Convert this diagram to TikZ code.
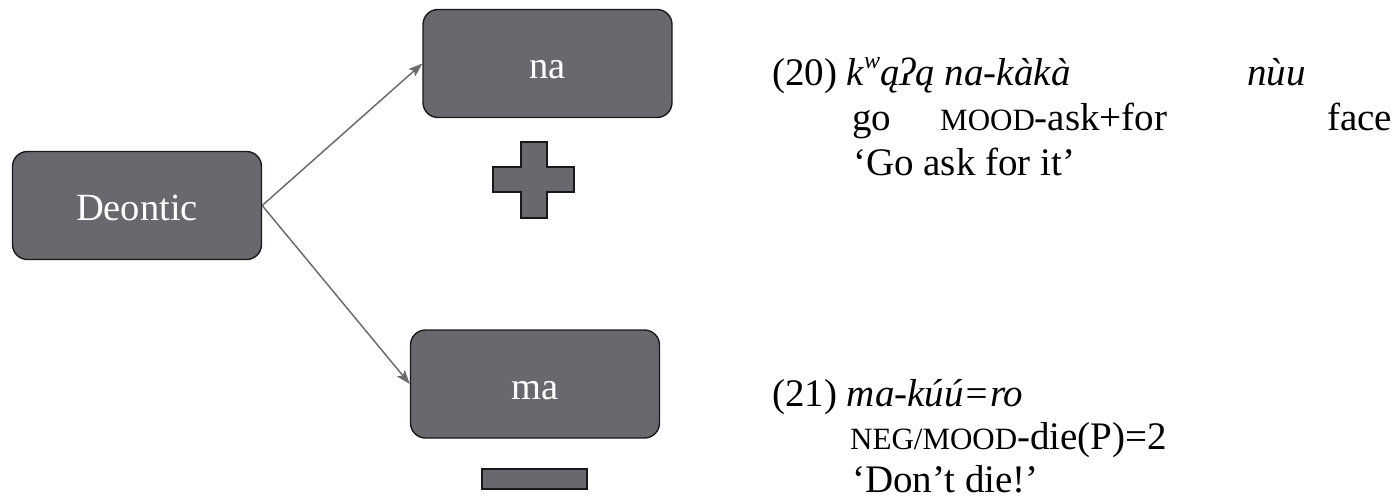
\documentclass[tikz,border=0pt]{standalone}
\usepackage{fontspec}
\setmainfont{Liberation Serif}
\usetikzlibrary{arrows.meta}
\definecolor{boxgray}{RGB}{104,105,110}
\definecolor{arrgray}{RGB}{108,108,112}
\newcommand\glsc[1]{{\fontsize{31}{31}\selectfont #1}}
\newcommand\supw{\raisebox{0.42em}{\fontsize{24}{24}\selectfont w}}
\begin{document}
\begin{tikzpicture}[x=1pt,y=-1pt,
  box/.style={draw=black!90, line width=1.4pt, fill=boxgray, rounded corners=15pt,
    minimum width=249pt, minimum height=108pt, inner sep=0pt, text=white,
    text height=30pt, text depth=0pt, font=\fontsize{38.5}{38.5}\selectfont},
  conn/.style={draw=arrgray, line width=1.5pt, -{Stealth[length=14pt,width=10pt,inset=3pt]}},
  sign/.style={draw=black!90, line width=1.3pt, fill=boxgray},
  ex/.style={anchor=base west, inner sep=0pt, font=\fontsize{39}{39}\selectfont}]
\useasboundingbox (0,0) rectangle (1395,499);

\node[box] (dn) at (137,205.5) {Deontic};
\node[box] (na) at (547.5,63.5) {na};
\node[box] (ma) at (535,384) {ma};
\draw[conn] (dn.east) -- (na.west);
\draw[conn] (dn.east) -- (ma.west);

\draw[sign] (521,142) -- (547,142) -- (547,167) -- (574,167) -- (574,192) -- (547,192)
  -- (547,218) -- (521,218) -- (521,192) -- (493,192) -- (493,167) -- (521,167) -- cycle;
\draw[sign] (482,469) rectangle (587,489);

\node[ex] (e20) at (772,85) {(20) \textit{k\supw ąʔą na-kàkà}};
\node[ex] (e20b) at (1247,85) {\textit{nùu}};
\node[ex] (g20a) at (852,130) {go};
\node[ex] (g20b) at (940,130) {\glsc{MOOD}-ask+for};
\node[ex] (g20c) at (1327,130) {face};
\node[ex] (t20) at (853,175) {‘Go ask for it’};

\node[ex] (e21) at (772,406) {(21) \textit{ma-kúú=ro}};
\node[ex] (g21) at (850,449) {\glsc{NEG/MOOD}-die(P)=2};
\node[ex] (t21) at (852,492) {‘Don’t die!’};
\end{tikzpicture}
\end{document}
